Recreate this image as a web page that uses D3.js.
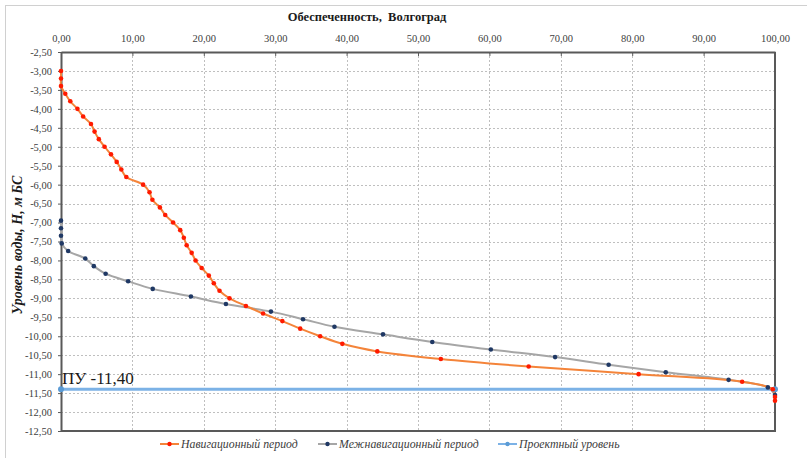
<!DOCTYPE html>
<html>
<head>
<meta charset="utf-8">
<script src="https://cdn.jsdelivr.net/npm/d3@7"></script>
<style>
  body { margin: 0; background: #fff; }
  svg text { font-family: "Liberation Serif", "Times New Roman", serif; }
</style>
</head>
<body>
<svg width="807" height="458"></svg>
<script>
// Навигационный период: обеспеченность (%) и уровень (м БС)
const navX = [0, 0, 0, 0.6, 1.3, 2.3, 3.1, 4.2, 4.7, 5.3, 6.1, 7.0, 7.8, 8.45, 9.15,
  11.5, 12.4, 12.8, 13.85, 14.6, 15.7, 16.7, 17.2, 17.6, 18.3, 18.85, 19.7, 20.7, 21.4, 22.2,
  23.6, 25.9, 28.3, 31.0, 33.5, 36.3, 39.4, 44.3, 53.2, 65.5, 80.9, 95.4, 99.7, 100, 100];
const navH = [-3.0, -3.2, -3.4, -3.6, -3.8, -4.0, -4.2, -4.4, -4.6, -4.8, -5.0, -5.2, -5.4, -5.6, -5.8,
  -6.0, -6.2, -6.4, -6.6, -6.8, -7.0, -7.2, -7.4, -7.6, -7.8, -8.0, -8.2, -8.4, -8.6, -8.8,
  -9.0, -9.2, -9.4, -9.6, -9.8, -10.0, -10.2, -10.4, -10.6, -10.8, -11.0, -11.2, -11.4, -11.6, -11.7];

// Межнавигационный период
const mezX = [0, 0, 0, 0.1, 1.0, 3.4, 4.6, 6.25, 9.4, 12.85, 18.2, 23.1, 29.4, 33.9,
  38.3, 45.1, 52.0, 60.2, 69.2, 76.7, 84.7, 93.5, 99.0, 100];
const mezH = [-6.95, -7.15, -7.35, -7.55, -7.75, -7.95, -8.15, -8.35, -8.55, -8.75, -8.95, -9.15, -9.35, -9.55,
  -9.75, -9.95, -10.15, -10.35, -10.55, -10.75, -10.95, -11.15, -11.35, -11.55];

// Проектный уровень
const pyX = [0, 100];
const pyH = [-11.4, -11.4];

const xTicks = [0, 10, 20, 30, 40, 50, 60, 70, 80, 90, 100];
const yTicks = [-2.5, -3, -3.5, -4, -4.5, -5, -5.5, -6, -6.5, -7, -7.5, -8, -8.5, -9, -9.5,
  -10, -10.5, -11, -11.5, -12, -12.5];

const seriesNames = ["Навигационный период", "Межнавигационный период", "Проектный уровень"];

const ru = d3.formatLocale({ decimal: ",", thousands: " ", grouping: [3], currency: ["", ""], minus: "-" });
const fmt = ru.format(".2f");
const SERIF = '"Liberation Serif", "Times New Roman", serif';

const svg = d3.select("svg");
const x = d3.scaleLinear().domain([0, 100]).range([61, 775]);
const y = d3.scaleLinear().domain([-2.5, -12.5]).range([52, 431]);

// chart border (only top/left visible)
svg.append("rect")
  .attr("x", 5.5).attr("y", 5.5).attr("width", 820).attr("height", 470)
  .attr("fill", "none").attr("stroke", "#d0d0d0");

// grid
const grid = svg.append("g").attr("stroke", "#bfbfbf").attr("stroke-dasharray", "2,2");
grid.selectAll("line.h").data(yTicks.slice(1, -1)).join("line")
  .attr("x1", x(0)).attr("x2", x(100))
  .attr("y1", d => Math.round(y(d)) + 0.5).attr("y2", d => Math.round(y(d)) + 0.5);
grid.selectAll("line.v").data(xTicks.slice(1, -1)).join("line")
  .attr("y1", y(-2.5)).attr("y2", y(-12.5))
  .attr("x1", d => Math.round(x(d)) + 0.5).attr("x2", d => Math.round(x(d)) + 0.5);

// axes
const xAxis = d3.axisTop(x).tickValues(xTicks).tickFormat(fmt).tickSizeInner(-4).tickSizeOuter(0);
const gx = svg.append("g").attr("transform", `translate(0,${y(-2.5)})`).call(xAxis)
  .attr("font-family", null);
gx.select(".domain").attr("stroke", "#595959").attr("stroke-width", 2);
gx.selectAll(".tick line").attr("stroke", "#595959");
gx.selectAll(".tick text").attr("y", -10).attr("fill", "#404040")
  .style("font-family", SERIF).style("font-size", "10.5px");

const yAxis = d3.axisLeft(y).tickValues(yTicks).tickFormat(fmt).tickSizeInner(3).tickSizeOuter(0);
const gy = svg.append("g").attr("transform", `translate(${x(0)},0)`).call(yAxis)
  .attr("font-family", null);
gy.select(".domain").attr("stroke", "#595959").attr("stroke-width", 2);
gy.selectAll(".tick line").attr("stroke", "#595959");
gy.selectAll(".tick text").attr("x", -9).attr("fill", "#404040")
  .style("font-family", SERIF).style("font-size", "10.5px");

// right & bottom frame
svg.append("line").attr("x1", x(100)).attr("x2", x(100)).attr("y1", y(-2.5)).attr("y2", y(-12.5))
  .attr("stroke", "#595959").attr("stroke-width", 2);
svg.append("line").attr("x1", x(0)).attr("x2", x(100) + 1).attr("y1", y(-12.5)).attr("y2", y(-12.5))
  .attr("stroke", "#595959").attr("stroke-width", 2);

// titles
svg.append("text").attr("x", 367).attr("y", 21).attr("text-anchor", "middle")
  .style("font-family", SERIF).style("font-size", "12.5px").style("font-weight", "bold")
  .attr("fill", "#1a1a1a")
  .text("Обеспеченность,\u00a0 Волгоград");

svg.append("text").attr("transform", "translate(22,245) rotate(-90)")
  .attr("text-anchor", "middle").style("font-family", SERIF).style("font-size", "14px")
  .style("font-weight", "bold").style("font-style", "italic").attr("fill", "#1a1a1a")
  .text("Уровень воды, H, м БС");

const line = d3.line().x(d => x(d[0])).y(d => y(d[1])).curve(d3.curveCatmullRom.alpha(0.5));

const series = [
  { pts: d3.zip(pyX, pyH), line: "#7cb2e6", width: 3, marker: "#5b9bd5", r: 3 },
  { pts: d3.zip(mezX, mezH), line: "#a6a6a6", width: 2, marker: "#1f3864", r: 2.3 },
  { pts: d3.zip(navX, navH), line: "#f4843a", width: 2, marker: "#ff1a00", r: 2.3 }
];

series.forEach(s => {
  svg.append("path").datum(s.pts).attr("d", line)
    .attr("fill", "none").attr("stroke", s.line).attr("stroke-width", s.width);
});
series.forEach(s => {
  svg.append("g").selectAll("circle").data(s.pts).join("circle")
    .attr("cx", d => x(d[0])).attr("cy", d => y(d[1])).attr("r", s.r)
    .attr("fill", s.marker);
});

// ПУ label
svg.append("text").attr("x", 62).attr("y", y(-11.4) - 5)
  .style("font-family", SERIF).style("font-size", "17px").attr("fill", "#1a1a1a")
  .text("ПУ " + fmt(pyH[0]));

// legend
const legendItems = [
  { name: seriesNames[0], line: "#f4843a", marker: "#ff1a00", x0: 160 },
  { name: seriesNames[1], line: "#a6a6a6", marker: "#1f3864", x0: 318 },
  { name: seriesNames[2], line: "#7cb2e6", marker: "#5b9bd5", x0: 498 }
];
const lg = svg.append("g");
legendItems.forEach(it => {
  lg.append("line").attr("x1", it.x0).attr("x2", it.x0 + 19).attr("y1", 444).attr("y2", 444)
    .attr("stroke", it.line).attr("stroke-width", 2);
  lg.append("circle").attr("cx", it.x0 + 9.5).attr("cy", 444).attr("r", 2.2).attr("fill", it.marker);
  lg.append("text").attr("x", it.x0 + 21).attr("y", 448)
    .style("font-family", SERIF).style("font-size", "11.8px").style("font-style", "italic")
    .attr("fill", "#404040")
    .text(it.name);
});
</script>
</body>
</html>
